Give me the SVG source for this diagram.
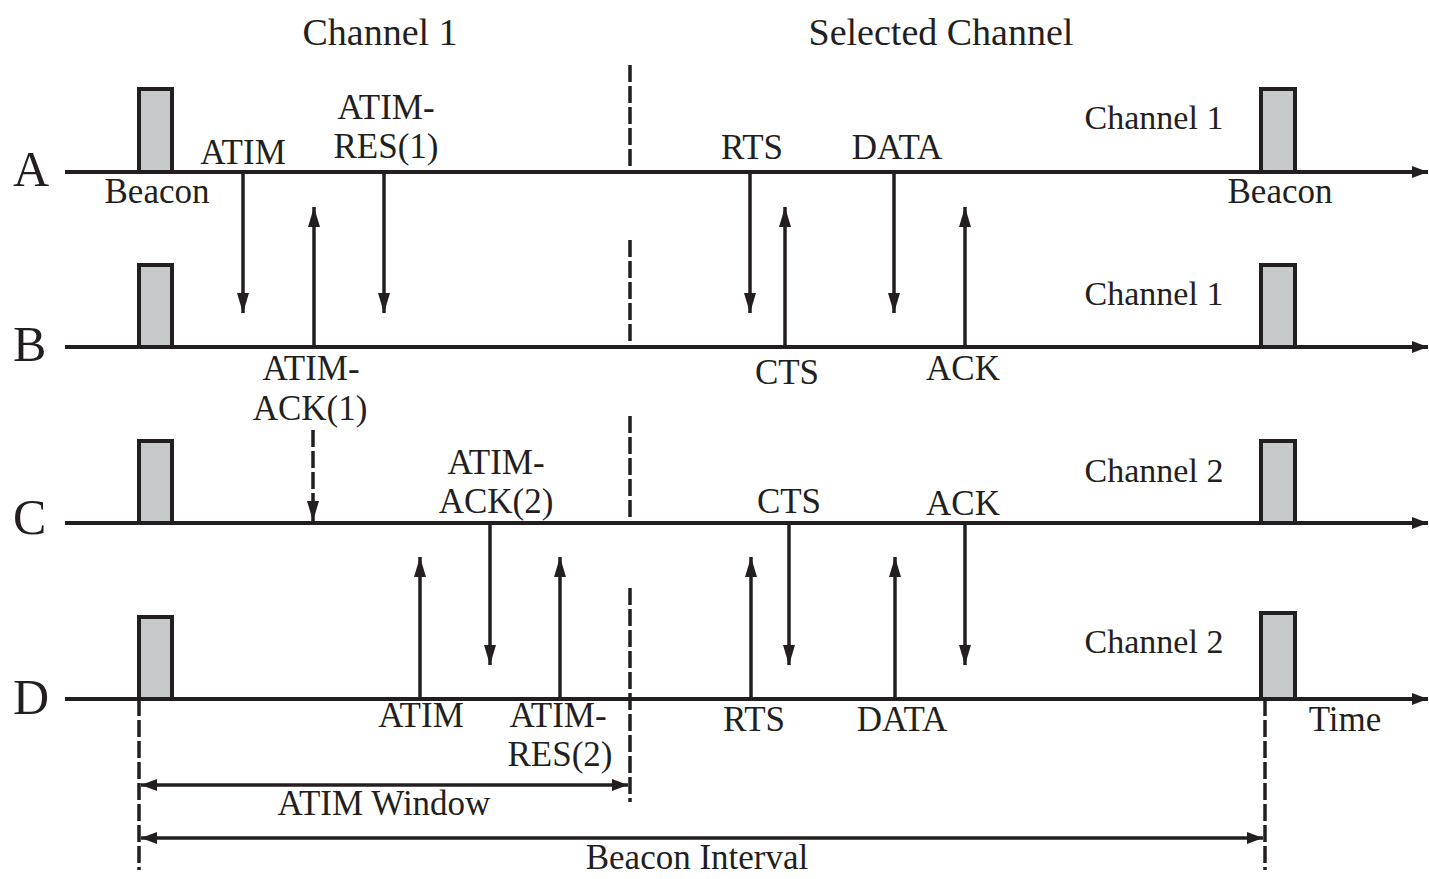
<svg xmlns="http://www.w3.org/2000/svg" width="1429" height="879" viewBox="0 0 1429 879">
<style>
text { font-family: "Liberation Serif", "Times New Roman", serif; fill: #231f20; }
.lbl { font-size: 35px; text-anchor: middle; }
.big { font-size: 50px; }
.head { font-size: 38px; text-anchor: middle; }
.ch { font-size: 34px; text-anchor: middle; }
.tl { stroke: #231f20; stroke-width: 4; fill: none; marker-end: url(#tlhead); }
.bcn { fill: #c8c9cb; stroke: #231f20; stroke-width: 4; }
.dash { stroke: #231f20; stroke-width: 3.5; stroke-dasharray: 17 4; fill: none; }
.msg { stroke: #231f20; stroke-width: 3.5; fill: none; marker-end: url(#ah); }
.msgd { stroke: #231f20; stroke-width: 3.5; stroke-dasharray: 17 4; fill: none; marker-end: url(#ah); }
.dim { stroke: #231f20; stroke-width: 3.5; fill: none; marker-start: url(#dh); marker-end: url(#dh); }
</style>
<defs>
<marker id="ah" markerUnits="userSpaceOnUse" markerWidth="20" markerHeight="12" refX="20" refY="6" orient="auto">
<path d="M0,0 L20,6 L0,12 z" fill="#231f20"/>
</marker>
<marker id="tlhead" markerUnits="userSpaceOnUse" markerWidth="16" markerHeight="12" refX="16" refY="6" orient="auto">
<path d="M0,0 L16,6 L0,12 z" fill="#231f20"/>
</marker>
<marker id="dh" markerUnits="userSpaceOnUse" markerWidth="16" markerHeight="12" refX="16" refY="6" orient="auto-start-reverse">
<path d="M0,0 L16,6 L0,12 z" fill="#231f20"/>
</marker>
</defs>
<rect width="1429" height="879" fill="#ffffff"/>

<g id="headers">
<text class="head" x="380" y="45">Channel 1</text>
<text class="head" x="941" y="45">Selected Channel</text>
</g>

<g id="timeline-A">
<text class="big" x="13" y="186">A</text>
<line class="tl" x1="65" y1="172" x2="1428" y2="172"/>
<rect class="bcn" x="139" y="89" width="33" height="83"/>
<rect class="bcn" x="1261" y="89" width="34" height="83"/>
<text class="lbl" x="157" y="203">Beacon</text>
<text class="lbl" x="1280" y="203">Beacon</text>
<text class="ch" x="1154" y="129">Channel 1</text>
</g>

<g id="timeline-B">
<text class="big" x="13" y="361">B</text>
<line class="tl" x1="65" y1="347" x2="1428" y2="347"/>
<rect class="bcn" x="139" y="265" width="33" height="82"/>
<rect class="bcn" x="1261" y="265" width="34" height="82"/>
<text class="ch" x="1154" y="305">Channel 1</text>
</g>

<g id="timeline-C">
<text class="big" x="13" y="534">C</text>
<line class="tl" x1="65" y1="523" x2="1428" y2="523"/>
<rect class="bcn" x="139" y="441" width="33" height="82"/>
<rect class="bcn" x="1261" y="441" width="34" height="82"/>
<text class="ch" x="1154" y="482">Channel 2</text>
</g>

<g id="timeline-D">
<text class="big" x="13" y="714">D</text>
<line class="tl" x1="65" y1="699" x2="1428" y2="699"/>
<rect class="bcn" x="139" y="617" width="33" height="82"/>
<rect class="bcn" x="1261" y="613" width="34" height="86"/>
<text class="ch" x="1154" y="653">Channel 2</text>
<text class="lbl" x="1345" y="731">Time</text>
</g>

<g id="boundaries">
<line class="dash" x1="630" y1="65" x2="630" y2="172"/>
<line class="dash" x1="630" y1="240" x2="630" y2="347"/>
<line class="dash" x1="630" y1="416" x2="630" y2="523"/>
<line class="dash" x1="630" y1="588" x2="630" y2="802"/>
<line class="dash" x1="139" y1="699" x2="139" y2="870"/>
<line class="dash" x1="1265" y1="699" x2="1265" y2="870"/>
</g>

<g id="connectors">
<line class="msg" x1="243" y1="174" x2="243" y2="313"/>
<line class="msg" x1="314" y1="345" x2="314" y2="207"/>
<line class="msg" x1="384" y1="174" x2="384" y2="313"/>
<line class="msg" x1="750" y1="174" x2="750" y2="313"/>
<line class="msg" x1="785" y1="345" x2="785" y2="207"/>
<line class="msg" x1="894" y1="174" x2="894" y2="313"/>
<line class="msg" x1="965" y1="345" x2="965" y2="207"/>
<line class="msgd" x1="313" y1="430" x2="313" y2="521"/>
<line class="msg" x1="420" y1="697" x2="420" y2="557"/>
<line class="msg" x1="490" y1="525" x2="490" y2="665"/>
<line class="msg" x1="560" y1="697" x2="560" y2="557"/>
<line class="msg" x1="751" y1="697" x2="751" y2="557"/>
<line class="msg" x1="789" y1="525" x2="789" y2="665"/>
<line class="msg" x1="895" y1="697" x2="895" y2="557"/>
<line class="msg" x1="965" y1="525" x2="965" y2="665"/>
<line class="dim" x1="141" y1="785" x2="628" y2="785"/>
<line class="dim" x1="141" y1="838" x2="1263" y2="838"/>
</g>

<g id="labels">
<text class="lbl" x="243" y="164">ATIM</text>
<text class="lbl" x="386" y="119">ATIM-</text>
<text class="lbl" x="386" y="158">RES(1)</text>
<text class="lbl" x="752" y="159">RTS</text>
<text class="lbl" x="897" y="159">DATA</text>
<text class="lbl" x="311" y="380">ATIM-</text>
<text class="lbl" x="310" y="420">ACK(1)</text>
<text class="lbl" x="787" y="384">CTS</text>
<text class="lbl" x="963" y="380">ACK</text>
<text class="lbl" x="496" y="474">ATIM-</text>
<text class="lbl" x="496" y="513">ACK(2)</text>
<text class="lbl" x="789" y="513">CTS</text>
<text class="lbl" x="963" y="515">ACK</text>
<text class="lbl" x="421" y="727">ATIM</text>
<text class="lbl" x="558" y="727">ATIM-</text>
<text class="lbl" x="560" y="766">RES(2)</text>
<text class="lbl" x="754" y="731">RTS</text>
<text class="lbl" x="902" y="731">DATA</text>
<text class="lbl" x="384" y="815">ATIM Window</text>
<text class="lbl" x="697" y="869">Beacon Interval</text>
</g>
</svg>
